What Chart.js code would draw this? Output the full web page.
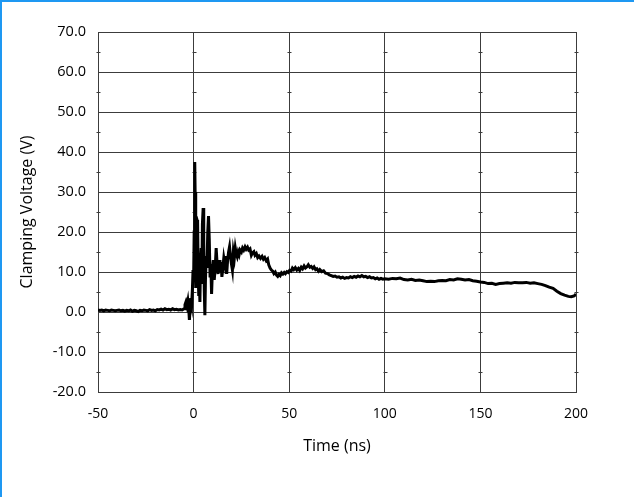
<!DOCTYPE html>
<html>
<head>
<meta charset="utf-8">
<script src="https://cdn.jsdelivr.net/npm/chart.js@4/dist/chart.umd.min.js"></script>
<style>
  html, body { margin: 0; padding: 0; background: #fff; }
  #wrap { position: relative; width: 634px; height: 497px; }
  #frame { position: absolute; left: 0; top: 0; width: 632px; height: 495px;
           border-top: 2px solid #1e98f2; border-left: 2px solid #1e98f2; pointer-events: none; }
</style>
</head>
<body>
<div id="wrap">
  <canvas id="chart" width="634" height="497"></canvas>
  <div id="frame"></div>
</div>
<script>
  // time (ns) and clamping voltage (V)
  const times = [
    -50, -49, -48, -47, -46, -45, -44, -43, -42, -41, -40, -39, -38, -37, -36, -35, -34, -33, -32, -31,
    -30, -29, -28, -27, -26, -25, -24, -23, -22, -21, -20, -19, -18, -17, -16, -15, -14, -13, -12, -11,
    -10, -9, -8, -7, -6, -5, -4.5, -4, -3.5, -3, -2.5, -2.2, -1.8, -1.5, -1, -0.6, -0.3, 0, 0.3, 0.6,
    0.8, 1.0, 1.2, 1.5, 1.8, 2.1, 2.4, 2.7, 3.0, 3.3, 3.6, 4.0, 4.3, 4.6, 5.0, 5.3, 5.6, 5.9, 6.2, 6.6,
    7.0, 7.4, 7.8, 8.2, 8.6, 9.0, 9.4, 9.8, 10.3, 10.8, 11.3, 11.8, 12.3, 12.8, 13.3, 13.8, 14.3, 14.8, 15.3, 15.8,
    16.3, 16.8, 17.3, 17.8, 18.3, 18.8, 19.3, 19.8, 20.3, 20.8, 21.3, 21.8, 22.3, 22.8, 23.3, 23.8, 24.3, 25, 25.6, 26.2,
    26.9, 27.5, 28.2, 28.8, 29.5, 30.2, 30.8, 31.5, 32.1, 32.8, 33.5, 34.2, 35, 35.8, 36.5, 37.2, 38, 38.7, 39.3, 40,
    40.7, 41.4, 42, 42.7, 43.4, 44, 44.7, 45.3, 46, 46.7, 47.4, 48, 48.8, 49.5, 50.2, 51, 51.7, 52.4, 53.2, 54,
    54.8, 55.5, 56.3, 57, 57.8, 58.5, 59.3, 60, 60.8, 61.5, 62.3, 63, 63.8, 64.5, 65.3, 66, 67, 68, 69, 70,
    71, 72, 73, 74, 75, 76, 77, 78, 79, 80, 81, 82, 83, 84, 85, 86, 87, 88, 89, 90,
    91, 92, 93, 94, 95, 96, 97, 98, 99, 100, 102, 104, 106, 108, 110, 112, 114, 116, 118, 120,
    122, 124, 126, 128, 130, 132, 134, 136, 138, 140, 142, 144, 146, 148, 150, 152, 154, 156, 158, 160,
    162, 164, 166, 168, 170, 172, 174, 176, 178, 180, 182, 184, 186, 188, 190, 192, 194, 196, 197.5, 199,
    200
  ];
  const volts = [
    0.5, 0.4, 0.5, 0.3, 0.5, 0.4, 0.3, 0.5, 0.4, 0.3, 0.4, 0.5, 0.3, 0.4, 0.2, 0.4, 0.3, 0.5, 0.2, 0.4,
    0.3, 0.1, 0.4, 0.3, 0.5, 0.4, 0.3, 0.6, 0.4, 0.5, 0.3, 0.6, 0.5, 0.7, 0.5, 0.8, 0.6, 0.7, 0.5, 0.8,
    0.6, 0.7, 0.5, 0.6, 0.5, 0.8, 1.8, 2.5, 1.5, 2.8, 0.5, -2.0, 1.0, 3.5, 2.0, 6, 10.5, 8, 20, 37.5,
    30, 12, 6, 21, 23, 22.5, 10, 4, 8, 2.5, 12, 16, 7, 22, 26, 18, 5, -0.8, 8, 14,
    11, 20, 24, 18, 9, 12, 4.5, 10, 13, 8, 11, 16, 12, 9.5, 13, 10, 12.5, 8.8, 11, 13.5,
    12, 14, 9.5, 13, 15, 16.3, 14, 12, 10.5, 15, 13.5, 16, 14.5, 13.8, 15, 14.3, 15.5, 15, 16, 15.5,
    16.3, 15.7, 16.2, 15.5, 15.8, 14.2, 14.8, 15.1, 14.2, 14.6, 13.6, 14, 13.4, 13.9, 13.2, 13.6, 12.8, 13.2, 11.8, 11,
    10.5, 10.2, 9.6, 10, 9.2, 8.9, 9.4, 9.1, 9.8, 9.5, 9.9, 9.6, 10.1, 9.9, 10.4, 10.2, 11, 10.6, 11.1, 10.5,
    10.9, 10.4, 11.2, 10.8, 11.5, 11, 11.3, 11.8, 11.2, 11.4, 10.9, 11.3, 10.6, 10.8, 10.2, 10.6, 10.1, 10.3, 9.7, 9.6,
    9.3, 9.1, 8.9, 9.0, 8.7, 8.8, 8.5, 8.7, 8.4, 8.6, 8.5, 8.8, 8.6, 8.9, 8.7, 9.0, 8.8, 9.1, 8.8, 8.9,
    8.6, 8.8, 8.5, 8.6, 8.3, 8.5, 8.2, 8.4, 8.2, 8.3, 8.2, 8.4, 8.3, 8.5, 8.1, 8.0, 8.2, 7.9, 8.0, 7.8,
    7.6, 7.7, 7.6, 7.8, 7.9, 7.8, 8.1, 8.0, 8.3, 8.2, 8.0, 8.1, 7.8, 7.7, 7.5, 7.4, 7.1, 7.2, 6.9, 7.1,
    7.2, 7.3, 7.2, 7.4, 7.3, 7.3, 7.4, 7.2, 7.3, 7.1, 6.9, 6.6, 6.2, 5.9, 5.2, 4.6, 4.2, 3.9, 3.8, 4.0,
    4.5
  ];

  const xTicks = [-50, 0, 50, 100, 150, 200];
  const yTicks = [-20, -10, 0, 10, 20, 30, 40, 50, 60, 70];
  const yMinorTicks = [-15, -5, 5, 15, 25, 35, 45, 55, 65];

  const gridColor = '#3c3c3c';
  const fontFamily = "'Open Sans', 'Noto Sans', sans-serif";

  // small cross marks on each vertical grid line, like the original
  const minorTicks = {
    id: 'minorTicks',
    beforeDatasetsDraw(chart) {
      const { ctx, scales: { x, y } } = chart;
      ctx.save();
      ctx.strokeStyle = gridColor;
      ctx.lineWidth = 1;
      xTicks.forEach(t => {
        const px = Math.round(x.getPixelForValue(t)) + 0.5;
        yMinorTicks.forEach(v => {
          const py = Math.round(y.getPixelForValue(v)) + 0.5;
          ctx.beginPath();
          ctx.moveTo(px - 2, py);
          ctx.lineTo(px + 2, py);
          ctx.stroke();
        });
      });
      ctx.restore();
    }
  };

  new Chart(document.getElementById('chart').getContext('2d'), {
    type: 'line',
    data: {
      datasets: [{
        data: times.map((t, i) => ({ x: t, y: volts[i] })),
        borderColor: '#000',
        borderWidth: 3,
        pointRadius: 0,
        tension: 0,
        fill: false
      }]
    },
    options: {
      responsive: false,
      animation: false,
      plugins: { legend: { display: false }, tooltip: { enabled: false } },
      layout: { padding: { left: 0, top: 32, right: 58, bottom: 37 } },
      scales: {
        x: {
          type: 'linear',
          min: -50,
          max: 200,
          afterBuildTicks(s) { s.ticks = xTicks.map(v => ({ value: v })); },
          afterFit(s) { s.height = 68; },
          grid: { color: gridColor, drawTicks: false },
          border: { color: gridColor },
          ticks: { color: '#000', padding: 14, font: { family: fontFamily, size: 14 } },
          title: {
            display: true,
            text: 'Time (ns)',
            color: '#000',
            padding: { top: 4, bottom: 4 },
            font: { family: fontFamily, size: 16 }
          }
        },
        y: {
          min: -20,
          max: 70,
          afterBuildTicks(s) { s.ticks = yTicks.map(v => ({ value: v })); },
          afterFit(s) { s.width = 98; },
          grid: { color: gridColor, drawTicks: false },
          border: { color: gridColor },
          ticks: {
            color: '#000',
            padding: 12,
            font: { family: fontFamily, size: 14.5 },
            callback: v => v.toFixed(1)
          },
          title: {
            display: true,
            text: 'Clamping Voltage (V)',
            color: '#000',
            padding: { top: 18, bottom: 4 },
            font: { family: fontFamily, size: 16 }
          }
        }
      }
    },
    plugins: [minorTicks]
  });
</script>
</body>
</html>
